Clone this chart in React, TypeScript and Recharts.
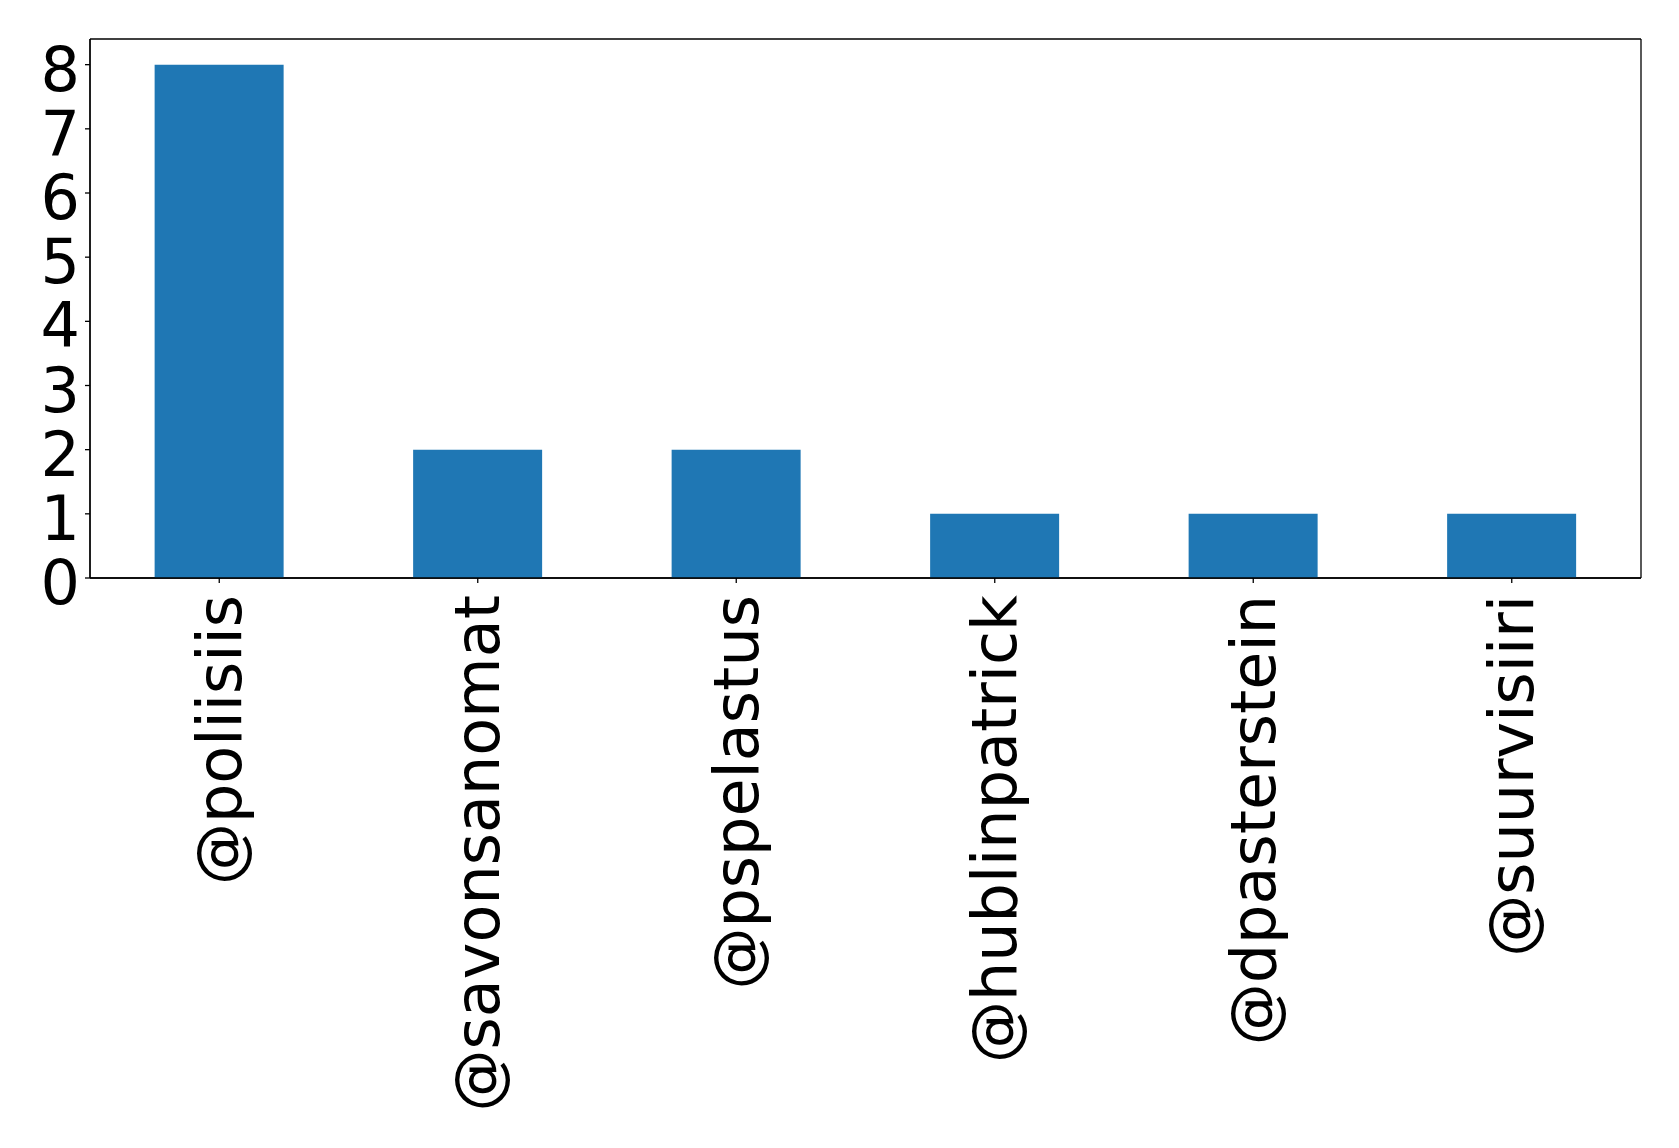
import React from 'react';
import { BarChart, Bar, XAxis, YAxis, CartesianGrid } from 'recharts';

// Mention counts per account
const accounts = ['@poliisiis', '@savonsanomat', '@pspelastus', '@hublinpatrick', '@dpasterstein', '@suurvisiiri'];
const mentions = [8, 2, 2, 1, 1, 1];
const yTicks = [0, 1, 2, 3, 4, 5, 6, 7, 8];

const data = accounts.map((name, i) => ({ name, count: mentions[i] }));

const FONT = 'DejaVu Sans';
const FONT_SIZE = 62;

const RotatedTick = (props: any) => {
  const { x, y, payload } = props;
  return (
    <g transform={`translate(${x},${y})`}>
      <text
        transform="rotate(-90)"
        textAnchor="end"
        dy="0.35em"
        fontFamily={FONT}
        fontSize={FONT_SIZE}
        fill="#000"
      >
        {payload.value}
      </text>
    </g>
  );
};

// Frame around the plot area: lines on its outer edges only
const frameRows = ({ offset }: any) => [offset.top, offset.top + offset.height];
const frameCols = ({ offset }: any) => [offset.left, offset.left + offset.width];

export default function App() {
  return (
    <div style={{ position: 'absolute', left: 0, top: 0, background: '#fff' }}>
      <BarChart
        width={1679}
        height={1148}
        data={data}
        margin={{ top: 39, right: 38, bottom: 0, left: 0 }}
        barCategoryGap="25%"
      >
        <CartesianGrid
          stroke="#000"
          strokeWidth={1.3}
          horizontalCoordinatesGenerator={frameRows}
          verticalCoordinatesGenerator={frameCols}
        />
        <XAxis
          dataKey="name"
          interval={0}
          height={570}
          tick={<RotatedTick />}
          tickSize={5}
          tickMargin={12}
          axisLine={{ stroke: '#000', strokeWidth: 1.3 }}
          tickLine={{ stroke: '#000', strokeWidth: 1.3 }}
        />
        <YAxis
          domain={[0, 8.4]}
          ticks={yTicks}
          width={90}
          interval={0}
          tickSize={5}
          tickMargin={5}
          allowDecimals={false}
          tick={{ fontFamily: FONT, fontSize: FONT_SIZE, fill: '#000', dy: 4 }}
          axisLine={{ stroke: '#000', strokeWidth: 1.3 }}
          tickLine={{ stroke: '#000', strokeWidth: 1.3 }}
        />
        <Bar dataKey="count" fill="#1f77b4" isAnimationActive={false} />
      </BarChart>
    </div>
  );
}
